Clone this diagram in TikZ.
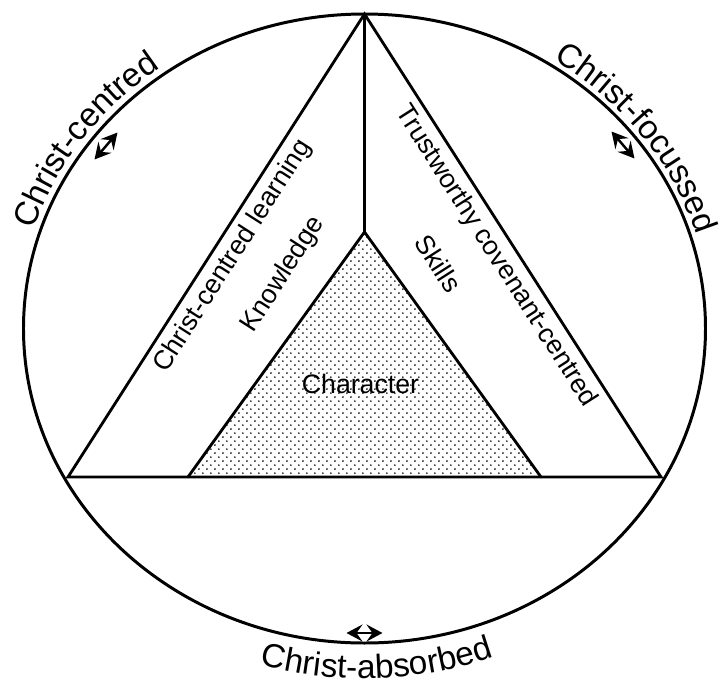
\documentclass[tikz,border=0pt]{standalone}
\usepackage{fontspec}
\setmainfont{Liberation Sans}
\usetikzlibrary{arrows.meta,decorations.text,patterns.meta}

\tikzdeclarepattern{
  name=chardots,
  type=uncolored,
  bounding box={(0pt,0pt) and (4.5pt,4.5pt)},
  tile size={(4.5pt,4.5pt)},
  code={
    \fill (1.125pt,1.125pt) circle (0.55pt);
    \fill (3.375pt,3.375pt) circle (0.55pt);
  }
}

\begin{document}
\begin{tikzpicture}[
  x=0.02cm,y=0.02cm,
  line cap=round,
  >={Stealth[length=3.2mm,width=3.4mm,inset=1.2mm]}
]
  \tikzset{
    rim/.style={line width=1.7pt},
    edge/.style={line width=1.6pt},
    twoway/.style={line width=1.4pt,<->},
    inlabel/.style={font=\fontsize{15.2}{17}\selectfont,inner sep=0pt},
    rimtext/.style={decorate,decoration={text along path,text align=center,
      text={|\fontsize{19}{21}\selectfont|#1}}}
  }
  \useasboundingbox (-364.5,-355.5) rectangle (355.5,328.5);

  % Outer ring
  \draw[rim] (0,0) ellipse [x radius=341, y radius=314.5];

  % Corners of the two triangles
  \coordinate (A)  at (0,314.5);
  \coordinate (L)  at (-296.5,-148.5);
  \coordinate (R)  at (296.5,-148.5);
  \coordinate (I)  at (0,96.5);
  \coordinate (IL) at (-176.5,-148.5);
  \coordinate (IR) at (176.5,-148.5);

  % Character core
  \fill[pattern=chardots] (I) -- (IL) -- (IR) -- cycle;
  \draw[edge] (IL) -- (I) -- (IR);
  \draw[edge] (L) -- (A) -- (R) -- cycle;
  \draw[edge] (A) -- (I);

  % Inner labels
  \node[inlabel] (character) at (-4,-55) {Character};
  \node[inlabel,rotate=57.4] (learning) at (-131.4,72.2) {Christ-centred learning};
  \node[inlabel,rotate=57.4] (knowledge) at (-81,54) {Knowledge};
  \node[inlabel,rotate=-57.4] (skills) at (74,65) {Skills};
  \node[inlabel,rotate=-57.4] (covenant) at (131.4,72.2) {Trustworthy covenant-centred};

  % Labels round the rim
  \path[rimtext=Christ-centred] (163:348 and 321.5)
    arc[start angle=163,end angle=125,x radius=348,y radius=321.5];
  \path[rimtext=Christ-focussed] (56:347 and 320.5)
    arc[start angle=56,end angle=18,x radius=347,y radius=320.5];
  \path[rimtext=Christ-absorbed] (250:374 and 350)
    arc[start angle=250,end angle=294,x radius=374,y radius=350];

  % Two-way arrows
  \coordinate (cen1) at (-270,169);
  \coordinate (cen2) at (-247,196);
  \coordinate (foc1) at (247,197);
  \coordinate (foc2) at (270,170);
  \coordinate (abs1) at (-18,-304.5);
  \coordinate (abs2) at (18,-304.5);
  \draw[twoway] (cen1) -- (cen2);
  \draw[twoway] (foc1) -- (foc2);
  \draw[twoway] (abs1) -- (abs2);
\end{tikzpicture}
\end{document}
